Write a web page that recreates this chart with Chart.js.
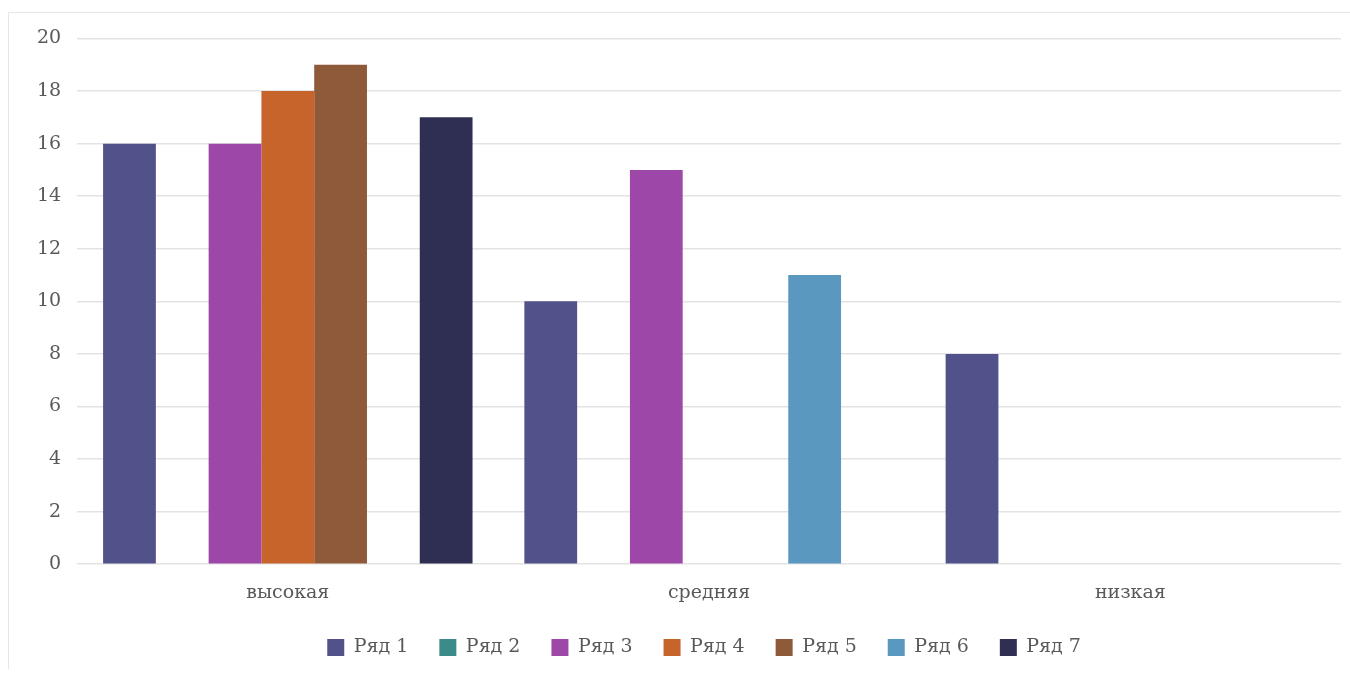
<!DOCTYPE html>
<html>
<head>
<meta charset="utf-8">
<script src="https://cdn.jsdelivr.net/npm/chart.js@4/dist/chart.umd.min.js"></script>
<style>
  html, body { margin: 0; padding: 0; background: #fff; }
  #wrap {
    position: absolute; left: 8px; top: 12px;
    width: 1342px; height: 656px;
    border-top: 1px solid #e6e6e6; border-left: 1px solid #e6e6e6;
  }
  canvas { display: block; }
</style>
</head>
<body>
<div id="wrap"><canvas id="chart" width="1341" height="655"></canvas></div>
<script>
// Categories and series
const categories = ['высокая', 'средняя', 'низкая'];
const seriesNames = ['Ряд 1', 'Ряд 2', 'Ряд 3', 'Ряд 4', 'Ряд 5', 'Ряд 6', 'Ряд 7'];
const row1 = [16, 10, 8];
const row2 = [0, 0, 0];
const row3 = [16, 15, 0];
const row4 = [18, 0, 0];
const row5 = [19, 0, 0];
const row6 = [0, 11, 0];
const row7 = [17, 0, 0];
const seriesColors = ['#52528a', '#3b8c88', '#9d47a8', '#c6642c', '#8e5a3a', '#5b98bf', '#2e2f52'];
const yTicks = [0, 2, 4, 6, 8, 10, 12, 14, 16, 18, 20];

const textColor = '#595959';
const fontFamily = '"DejaVu Serif", "Liberation Serif", serif';

const allRows = [row1, row2, row3, row4, row5, row6, row7];

// legend is centred (roughly) under the plot area, not the whole canvas
const legendShift = {
  id: 'legendShift',
  afterLayout(chart) {
    const lg = chart.legend;
    const dx = (chart.chartArea.left + chart.chartArea.right) / 2 - (lg.left + lg.right) / 2 - 5;
    lg.left += dx;
    lg.right += dx;
  }
};

const ctx = document.getElementById('chart').getContext('2d');
const chart = new Chart(ctx, {
  type: 'bar',
  data: {
    labels: categories,
    datasets: allRows.map((vals, i) => ({
      label: seriesNames[i],
      data: vals,
      backgroundColor: seriesColors[i],
      borderWidth: 0,
      categoryPercentage: 0.877,
      barPercentage: 1.0
    }))
  },
  options: {
    responsive: false,
    animation: false,
    layout: {
      padding: { top: 9, right: 9, left: 12, bottom: 1 }
    },
    scales: {
      x: {
        grid: { display: false },
        border: { display: false },
        afterFit: (axis) => { axis.height -= 6; },
        ticks: {
          color: textColor,
          font: { family: fontFamily, size: 19 },
          padding: 9
        }
      },
      y: {
        min: 0,
        max: 20,
        afterBuildTicks: (axis) => {
          axis.ticks = yTicks.map(v => ({ value: v }));
        },
        grid: { color: '#e3e3e3', lineWidth: 1.5, drawTicks: false },
        border: { display: false },
        ticks: {
          color: textColor,
          font: { family: fontFamily, size: 19, lineHeight: 1 },
          padding: 16
        }
      }
    },
    plugins: {
      legend: {
        position: 'bottom',
        labels: {
          color: textColor,
          font: { family: fontFamily, size: 19 },
          boxWidth: 17,
          boxHeight: 17,
          padding: 31
        }
      },
      tooltip: { enabled: false }
    }
  },
  plugins: [legendShift]
});
</script>
</body>
</html>
